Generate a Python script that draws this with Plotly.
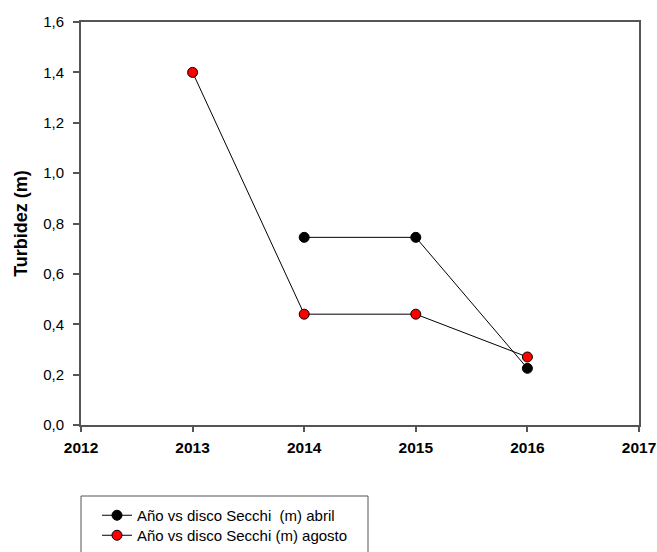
import plotly.graph_objects as go

# Secchi disc readings per year
years_abril = [2014, 2015, 2016]
secchi_abril = [0.745, 0.745, 0.225]
years_agosto = [2013, 2014, 2015, 2016]
secchi_agosto = [1.40, 0.44, 0.44, 0.27]

name_abril = "Año vs disco Secchi  (m) abril"
name_agosto = "Año vs disco Secchi (m) agosto"

W, H = 657, 552
L, R, T, B = 81, 18, 22, 127
plot_w = W - L - R
plot_h = H - T - B

def px_x(p):
    return (p - L) / plot_w

def px_y(p):
    return (H - B - p) / plot_h

fig = go.Figure()
fig.add_trace(go.Scatter(
    x=years_abril, y=secchi_abril, name=name_abril, mode="lines+markers",
    line=dict(color="black", width=1),
    marker=dict(color="black", size=10, line=dict(color="black", width=1)),
    legend="legend",
))
fig.add_trace(go.Scatter(
    x=years_agosto, y=secchi_agosto, name=name_agosto, mode="lines+markers",
    line=dict(color="black", width=1),
    marker=dict(color="red", size=10, line=dict(color="black", width=1)),
    legend="legend2",
))

axis_color = "#555555"

def legend_at(top_px):
    return dict(
        x=px_x(97), y=px_y(top_px), xanchor="left", yanchor="top",
        bgcolor="rgba(0,0,0,0)", borderwidth=0,
        font=dict(size=15, color="black"),
    )

fig.update_layout(
    width=W, height=H,
    margin=dict(l=L, r=R, t=T, b=B, pad=0, autoexpand=False),
    plot_bgcolor="white", paper_bgcolor="white",
    separators=",.",
    font=dict(family="Liberation Sans, Arial, sans-serif", size=15, color="black"),
    showlegend=True,
    legend=legend_at(499),
    legend2=legend_at(519),
    xaxis=dict(
        range=[2012, 2017], dtick=1, tick0=2012,
        showgrid=False, zeroline=False,
        showline=True, linecolor=axis_color, linewidth=2, mirror=True,
        ticks="outside", ticklen=5, tickwidth=1.5, tickcolor=axis_color,
        ticklabelstandoff=2,
        tickfont=dict(size=15.5, color="black", family="Liberation Sans, Arial, sans-serif", weight="bold"),
    ),
    yaxis=dict(
        range=[0, 1.6], dtick=0.2, tick0=0, tickformat=".1f",
        showgrid=False, zeroline=False,
        showline=True, linecolor=axis_color, linewidth=2, mirror=True,
        ticks="outside", ticklen=6, tickwidth=1.5, tickcolor=axis_color,
        ticklabelstandoff=6,
        tickfont=dict(size=15, color="black"),
        title=dict(text="<b>Turbidez (m)</b>", font=dict(size=18, color="black"), standoff=11),
    ),
)

# legend frame, running past the lower edge of the page
fig.add_shape(
    type="rect", xref="paper", yref="paper",
    x0=px_x(81), x1=px_x(368), y0=px_y(496), y1=px_y(600),
    line=dict(color=axis_color, width=1), fillcolor="rgba(0,0,0,0)",
    layer="below",
)

fig.write_html("out.html")
